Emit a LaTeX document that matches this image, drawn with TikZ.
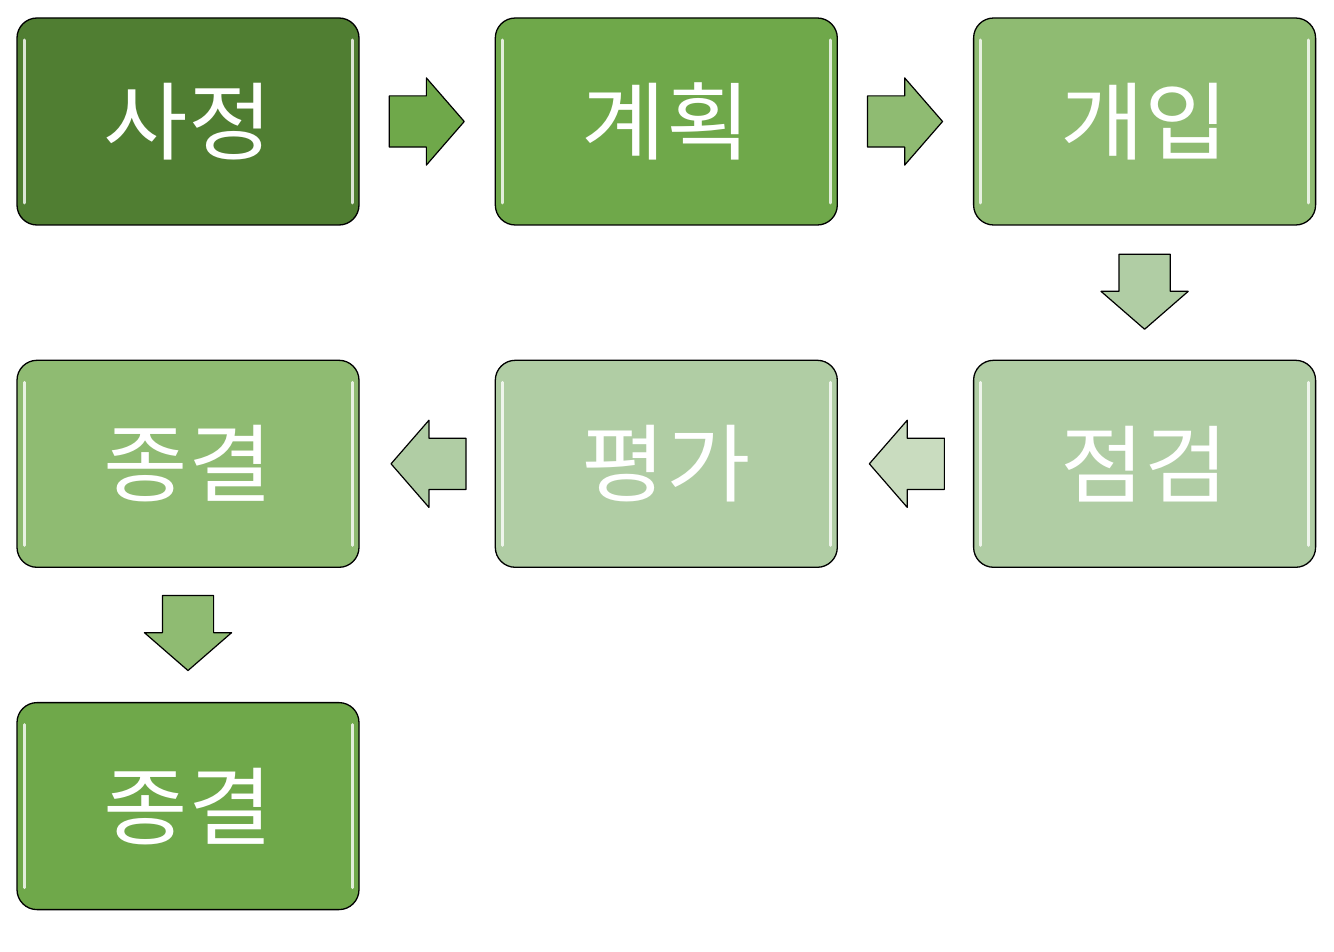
\documentclass[tikz,border=0pt]{standalone}
\usepackage{fontspec}
\newfontfamily\kr[FakeStretch=1.08]{Noto Sans CJK KR}
\usetikzlibrary{positioning,shapes.arrows,calc}
\definecolor{greenA}{HTML}{507E32}
\definecolor{greenB}{HTML}{6FA84A}
\definecolor{greenC}{HTML}{8FBB72}
\definecolor{greenD}{HTML}{B0CDA4}
\definecolor{greenE}{HTML}{C9DCBF}
\begin{document}
\begin{tikzpicture}[x=1pt, y=1pt, line join=round,
  stage/.style={draw=black, line width=1.3pt, rounded corners=20pt,
    minimum width=342pt, minimum height=207pt, inner sep=0pt,
    text=white, font=\kr\fontsize{85}{90}\selectfont,
    path picture={
      \draw[white, opacity=0.8, line width=3pt, line cap=round]
        ($(path picture bounding box.north west)+(7,-22)$) -- ($(path picture bounding box.south west)+(7,22)$)
        ($(path picture bounding box.north east)+(-7,-22)$) -- ($(path picture bounding box.south east)+(-7,22)$);}},
  flow/.style={single arrow, draw=black, line width=1.2pt, inner xsep=0pt, inner ysep=25pt,
    minimum height=75pt, single arrow head extend=18pt, single arrow tip angle=98, anchor=tail}]
  \useasboundingbox (0,0) rectangle (1334,-952);
  % boxes
  \node[stage, fill=greenA] (sajeong) at (188,-121.5) {사정};
  \node[stage, fill=greenB, right=135pt of sajeong] (gyehoek) {계획};
  \node[stage, fill=greenC, right=135pt of gyehoek] (gaeip) {개입};
  \node[stage, fill=greenD, below=134pt of gaeip] (jeomgeom) {점검};
  \node[stage, fill=greenD, left=135pt of jeomgeom] (pyeongga) {평가};
  \node[stage, fill=greenC, left=135pt of pyeongga] (jonggyeol) {종결};
  \node[stage, fill=greenB, below=134pt of jonggyeol] (jonggyeol2) {종결};
  % arrows
  \node[flow, fill=greenB] (a1) at ([xshift=29pt]sajeong.east) {};
  \node[flow, fill=greenC] (a2) at ([xshift=29pt]gyehoek.east) {};
  \node[flow, fill=greenD, rotate=-90] (a3) at ([yshift=-28pt]gaeip.south) {};
  \node[flow, fill=greenE, rotate=180] (a4) at ([xshift=-28pt]jeomgeom.west) {};
  \node[flow, fill=greenD, rotate=180] (a5) at ([xshift=-28pt]pyeongga.west) {};
  \node[flow, fill=greenC, rotate=-90] (a6) at ([yshift=-27pt]jonggyeol.south) {};
\end{tikzpicture}
\end{document}
